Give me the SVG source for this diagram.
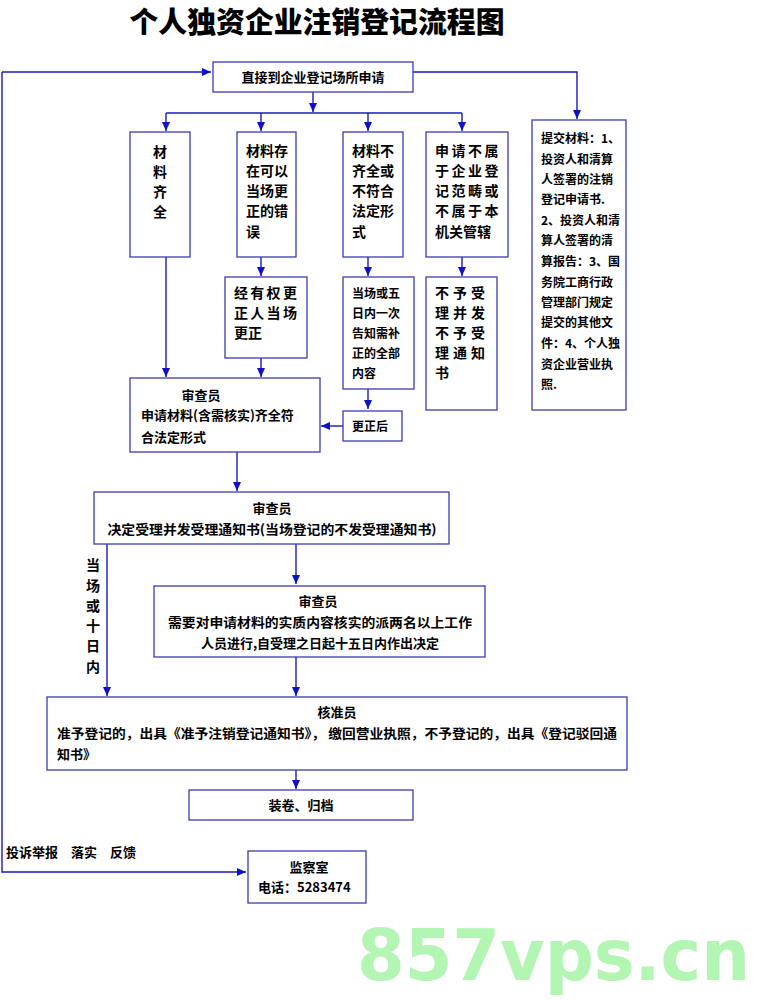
<svg xmlns="http://www.w3.org/2000/svg" width="769" height="1000" viewBox="0 0 769 1000">
<style>
.box{fill:#ffffff;stroke:#3b3bb0;stroke-width:1.3}
.t{font-family:"Noto Sans CJK SC","Noto Sans",sans-serif;font-weight:bold;font-size:13px;fill:#000}
.v{font-family:"Noto Sans CJK SC","Noto Sans",sans-serif;font-weight:bold;font-size:14px;fill:#000}
.s{font-family:"Noto Sans CJK SC","Noto Sans",sans-serif;font-weight:bold;font-size:12px;fill:#000}
.c{text-anchor:middle}
.ln{fill:none;stroke:#1a1ac0;stroke-width:1.4}
</style>
<defs>
<marker id="ah" markerUnits="userSpaceOnUse" markerWidth="10" markerHeight="10" viewBox="0 0 10 10" refX="9" refY="5" orient="auto">
<path d="M0,1 L9,5 L0,9 Z" fill="#1010c8"/>
</marker>
</defs>
<rect width="769" height="1000" fill="#ffffff"/>
<text x="317" y="33" text-anchor="middle" font-family="'Noto Sans CJK SC',sans-serif" font-weight="900" font-size="29" textLength="375" lengthAdjust="spacingAndGlyphs">个人独资企业注销登记流程图</text>

<g id="connectors">
<path class="ln" d="M2,72 L211,72" marker-end="url(#ah)"/>
<path class="ln" d="M2,72 L2,872 L246,872" marker-end="url(#ah)"/>
<path class="ln" d="M413,72 L577,72 L577,119" marker-end="url(#ah)"/>
<path class="ln" d="M313,92 L313,112" marker-end="url(#ah)"/>
<path class="ln" d="M166,113 L462,113"/>
<path class="ln" d="M166,113 L166,131" marker-end="url(#ah)"/>
<path class="ln" d="M261,113 L261,131" marker-end="url(#ah)"/>
<path class="ln" d="M368,113 L368,131" marker-end="url(#ah)"/>
<path class="ln" d="M462,113 L462,131" marker-end="url(#ah)"/>
<path class="ln" d="M166,257 L166,377" marker-end="url(#ah)"/>
<path class="ln" d="M261,257 L261,276" marker-end="url(#ah)"/>
<path class="ln" d="M261,358 L261,377" marker-end="url(#ah)"/>
<path class="ln" d="M368,257 L368,276" marker-end="url(#ah)"/>
<path class="ln" d="M368,389 L368,409" marker-end="url(#ah)"/>
<path class="ln" d="M462,257 L462,276" marker-end="url(#ah)"/>
<path class="ln" d="M343,426 L321,426" marker-end="url(#ah)"/>
<path class="ln" d="M237,452 L237,491" marker-end="url(#ah)"/>
<path class="ln" d="M107,544 L107,696" marker-end="url(#ah)"/>
<path class="ln" d="M296,544 L296,584" marker-end="url(#ah)"/>
<path class="ln" d="M296,657 L296,696" marker-end="url(#ah)"/>
<path class="ln" d="M296,770 L296,789" marker-end="url(#ah)"/>
</g>

<g id="apply">
<rect class="box" x="213" y="62" width="200" height="30"/>
<text class="t c" x="313" y="82">直接到企业登记场所申请</text>
</g>

<g id="complete">
<rect class="box" x="130" y="132" width="60" height="125"/>
<text class="v c" x="160" y="157">材</text>
<text class="v c" x="160" y="177">料</text>
<text class="v c" x="160" y="197">齐</text>
<text class="v c" x="160" y="217">全</text>
</g>

<g id="correctable">
<rect class="box" x="237" y="132" width="59" height="125"/>
<text class="v" x="246" y="156">材料存</text>
<text class="v" x="246" y="176">在可以</text>
<text class="v" x="246" y="196">当场更</text>
<text class="v" x="246" y="216">正的错</text>
<text class="v" x="246" y="237">误</text>
</g>

<g id="incomplete">
<rect class="box" x="343" y="132" width="60" height="125"/>
<text class="v" x="352" y="156">材料不</text>
<text class="v" x="352" y="176">齐全或</text>
<text class="v" x="352" y="196">不符合</text>
<text class="v" x="352" y="216">法定形</text>
<text class="v" x="352" y="237">式</text>
</g>

<g id="outofscope">
<rect class="box" x="426" y="132" width="82" height="125"/>
<text class="v" x="435" y="156" letter-spacing="2.5">申请不属</text>
<text class="v" x="435" y="176" letter-spacing="2.5">于企业登</text>
<text class="v" x="435" y="196" letter-spacing="2.5">记范畴或</text>
<text class="v" x="435" y="216" letter-spacing="2.5">不属于本</text>
<text class="v" x="435" y="237" letter-spacing="0">机关管辖</text>
</g>

<g id="materials">
<rect class="box" x="532" y="120" width="94" height="290"/>
<text class="s" x="541" y="143">提交材料：1、</text>
<text class="s" x="541" y="164">投资人和清算</text>
<text class="s" x="541" y="184">人签署的注销</text>
<text class="s" x="541" y="204">登记申请书.</text>
<text class="s" x="541" y="225">2、投资人和清</text>
<text class="s" x="541" y="245">算人签署的清</text>
<text class="s" x="541" y="266">算报告：3、国</text>
<text class="s" x="541" y="287">务院工商行政</text>
<text class="s" x="541" y="307">管理部门规定</text>
<text class="s" x="541" y="327">提交的其他文</text>
<text class="s" x="541" y="348">件：4、个人独</text>
<text class="s" x="541" y="369">资企业营业执</text>
<text class="s" x="541" y="389">照.</text>
</g>

<g id="onsite">
<rect class="box" x="225" y="277" width="82" height="81"/>
<text class="v" x="234" y="298" letter-spacing="2.3">经有权更</text>
<text class="v" x="234" y="318" letter-spacing="2.3">正人当场</text>
<text class="v" x="234" y="338">更正</text>
</g>

<g id="notify">
<rect class="box" x="343" y="277" width="71" height="112"/>
<text class="s" x="352" y="298">当场或五</text>
<text class="s" x="352" y="318">日内一次</text>
<text class="s" x="352" y="338">告知需补</text>
<text class="s" x="352" y="358">正的全部</text>
<text class="s" x="352" y="378">内容</text>
</g>

<g id="reject">
<rect class="box" x="426" y="277" width="71" height="133"/>
<text class="v" x="435" y="298" letter-spacing="4">不予受</text>
<text class="v" x="435" y="318" letter-spacing="4">理并发</text>
<text class="v" x="435" y="338" letter-spacing="4">不予受</text>
<text class="v" x="435" y="358" letter-spacing="4">理通知</text>
<text class="v" x="435" y="378">书</text>
</g>

<g id="corrected">
<rect class="box" x="343" y="411" width="59" height="30"/>
<text class="s" x="352" y="431">更正后</text>
</g>

<g id="review1">
<rect class="box" x="130" y="378" width="190" height="74"/>
<text class="t c" x="201" y="400">审查员</text>
<text class="t" x="141" y="420">申请材料(含需核实)齐全符</text>
<text class="t" x="141" y="442">合法定形式</text>
</g>

<g id="review2">
<rect class="box" x="94" y="492" width="355" height="52"/>
<text class="t c" x="272" y="513">审查员</text>
<text class="t c" x="272" y="534" textLength="329" lengthAdjust="spacingAndGlyphs">决定受理并发受理通知书(当场登记的不发受理通知书)</text>
</g>

<text class="v c" x="93" y="570">当</text>
<text class="v c" x="93" y="591">场</text>
<text class="v c" x="93" y="611">或</text>
<text class="v c" x="93" y="631">十</text>
<text class="v c" x="93" y="651">日</text>
<text class="v c" x="93" y="672">内</text>

<g id="review3">
<rect class="box" x="154" y="586" width="331" height="71"/>
<text class="t c" x="318" y="606">审查员</text>
<text class="t c" x="320" y="627" textLength="304" lengthAdjust="spacingAndGlyphs">需要对申请材料的实质内容核实的派两名以上工作</text>
<text class="t c" x="320" y="648">人员进行,自受理之日起十五日内作出决定</text>
</g>

<g id="approve">
<rect class="box" x="47" y="697" width="580" height="73"/>
<text class="t c" x="337" y="717">核准员</text>
<text class="t" x="57" y="738" textLength="560" lengthAdjust="spacingAndGlyphs">准予登记的，出具《准予注销登记通知书》， 缴回营业执照，不予登记的，出具《登记驳回通</text>
<text class="t" x="57" y="759">知书》</text>
</g>

<g id="archive">
<rect class="box" x="189" y="790" width="224" height="30"/>
<text class="t c" x="301" y="810">装卷、归档</text>
</g>

<text class="t" x="6" y="857">投诉举报　落实　反馈</text>

<g id="supervision">
<rect class="box" x="248" y="851" width="118" height="52"/>
<text class="t c" x="309" y="872">监察室</text>
<text class="t" x="258" y="892">电话：5283474</text>
</g>

<text x="357" y="980" font-family="'DejaVu Sans',sans-serif" font-weight="bold" font-size="72" fill="#b3f5b3" textLength="393" lengthAdjust="spacingAndGlyphs">857vps.cn</text>
</svg>
